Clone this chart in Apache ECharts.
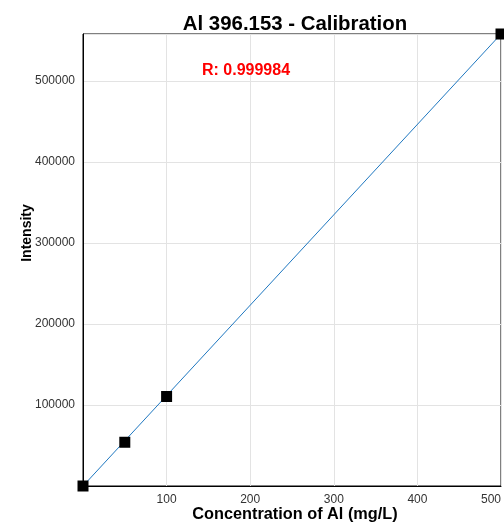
<!DOCTYPE html>
<html>
<head>
<meta charset="utf-8">
<script src="https://cdn.jsdelivr.net/npm/echarts@6/dist/echarts.min.js"></script>
<style>
  html, body { margin: 0; padding: 0; background: #fff; }
  #chart { width: 504px; height: 527px; }
</style>
</head>
<body>
<div id="chart"></div>
<script>
// standards: concentration (mg/L) and measured intensity
var concentrations = [0, 50, 100, 500];
var intensities = [0, 54000, 110500, 558000];
// fitted calibration line end points
var fitX = [0, 500];
var fitY = [0, 558000];
var rValue = 'R: 0.999984';

var points = concentrations.map(function (c, i) { return [c, intensities[i]]; });
var fitLine = fitX.map(function (c, i) { return [c, fitY[i]]; });

var chart = echarts.init(document.getElementById('chart'));
chart.setOption({
    backgroundColor: '#fff',
    animation: false,
    title: [{
        text: 'Al 396.153 - Calibration',
        left: 290,
        top: 9,
        textAlign: 'center',
        textStyle: { fontFamily: 'Liberation Sans', fontSize: 20.4, fontWeight: 'bold', color: '#000' }
    }, {
        text: rValue,
        left: 197,
        top: 58,
        textStyle: { fontFamily: 'Liberation Sans', fontSize: 16, fontWeight: 'bold', color: '#ff0000' }
    }],
    grid: {
        left: 83,
        right: 3,
        top: 34,
        bottom: 41,
        show: true,
        borderColor: '#000',
        borderWidth: 1,
        containLabel: false,
        outerBoundsMode: 'none'
    },
    xAxis: {
        type: 'value',
        min: 0,
        max: 500,
        interval: 100,
        name: 'Concentration of Al (mg/L)',
        nameLocation: 'middle',
        nameGap: 21,
        nameMoveOverlap: false,
        nameTextStyle: { fontFamily: 'Liberation Sans', fontSize: 16.3, fontWeight: 'bold', color: '#000', padding: [0, 0, 0, 6] },
        axisLine: { show: true, lineStyle: { color: '#000' } },
        axisTick: { show: false },
        axisLabel: {
            fontFamily: 'Liberation Sans', fontSize: 12, color: '#333', margin: 8,
            alignMaxLabel: 'right',
            formatter: function (v) { return v === 0 ? '' : String(v); }
        },
        splitLine: { show: true, lineStyle: { color: '#e3e3e3' } }
    },
    yAxis: {
        type: 'value',
        min: 0,
        max: 558000,
        interval: 100000,
        name: 'Intensity',
        nameLocation: 'middle',
        nameGap: 49,
        nameMoveOverlap: false,
        nameTextStyle: { fontFamily: 'Liberation Sans', fontSize: 14, fontWeight: 'bold', color: '#000', padding: [0, 0, 0, 54] },
        axisLine: { show: true, lineStyle: { color: '#000' } },
        axisTick: { show: false },
        axisLabel: {
            fontFamily: 'Liberation Sans', fontSize: 12, color: '#333', margin: 8,
            showMaxLabel: false,
            formatter: function (v) { return v === 0 ? '' : String(v); }
        },
        splitLine: { show: true, lineStyle: { color: '#e3e3e3' } }
    },
    series: [{
        name: 'fit',
        type: 'line',
        data: fitLine,
        showSymbol: false,
        symbol: 'none',
        lineStyle: { color: '#1f78c1', width: 1 },
        clip: false,
        z: 2
    }, {
        name: 'standards',
        type: 'scatter',
        data: points,
        symbol: 'rect',
        symbolSize: 11,
        itemStyle: { color: '#000', opacity: 1 },
        clip: false,
        z: 3
    }]
});
</script>
</body>
</html>
